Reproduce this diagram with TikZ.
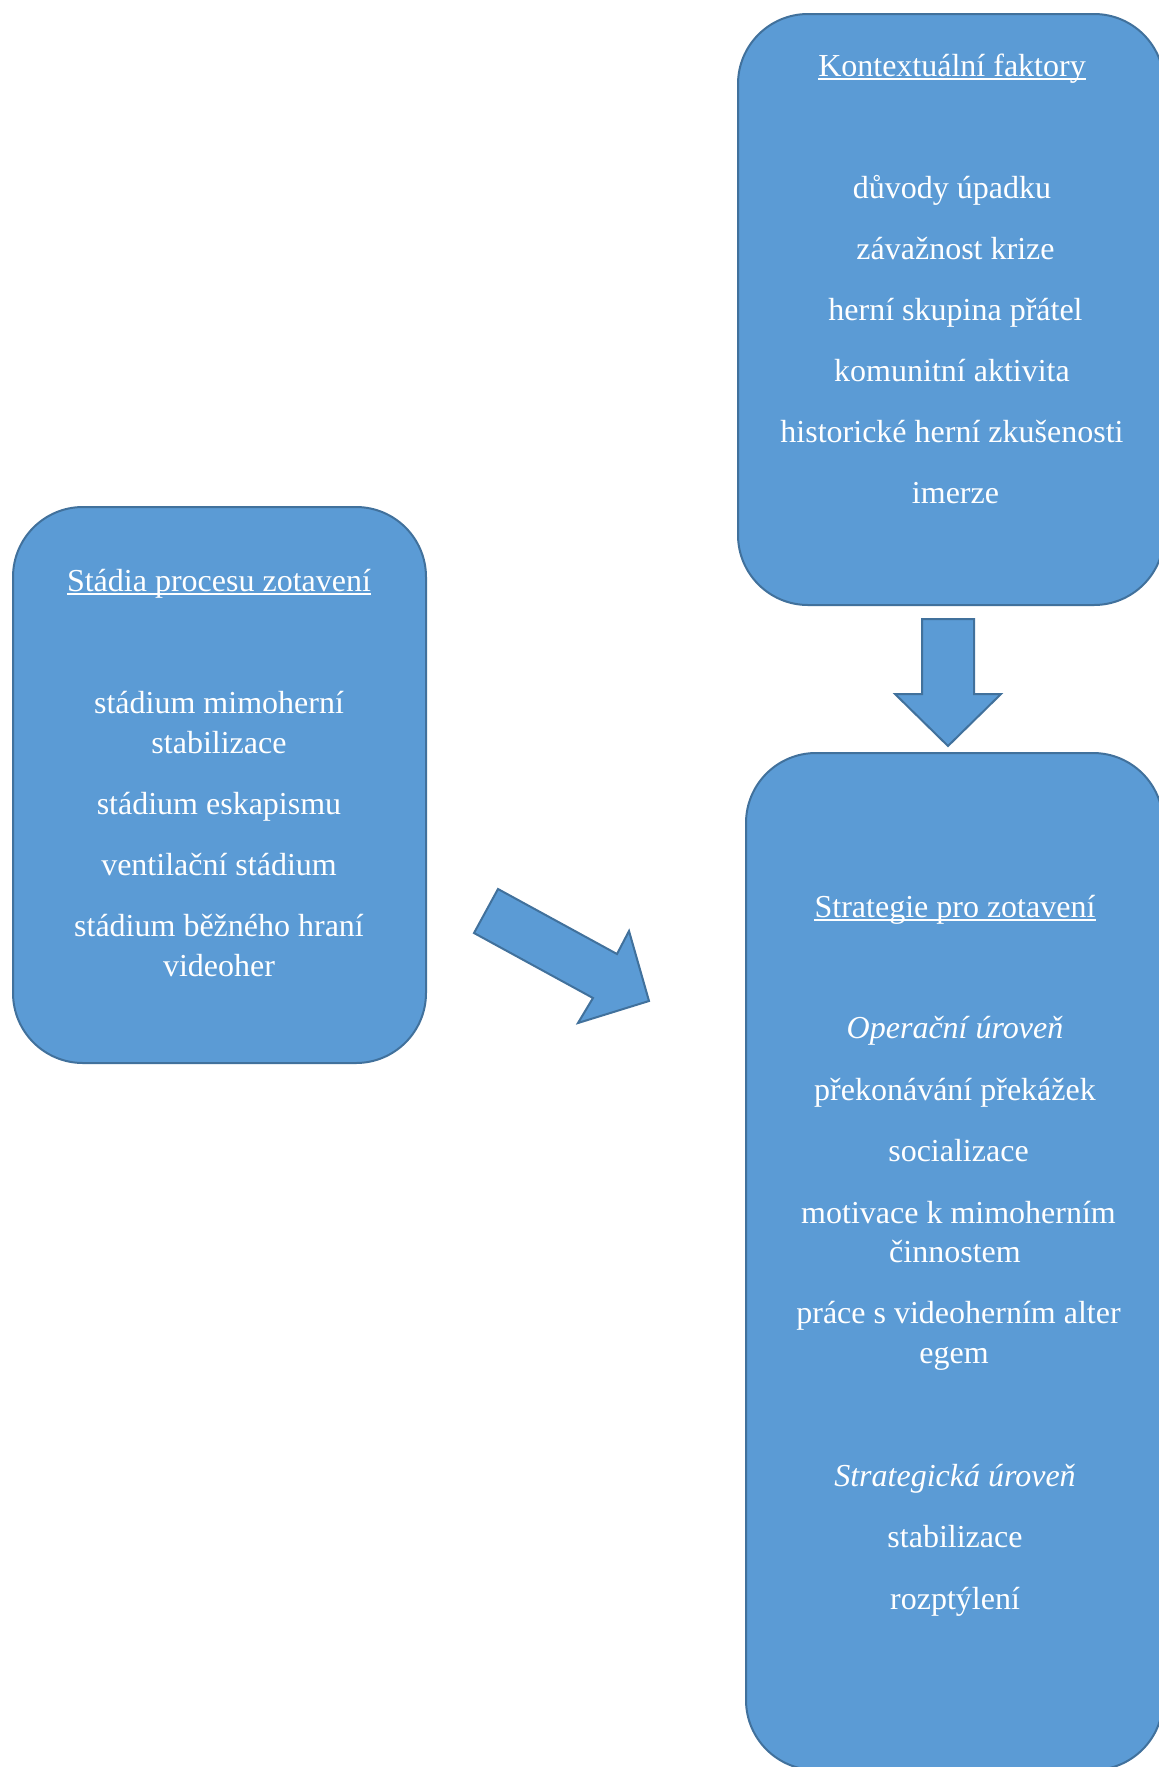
\documentclass[tikz,border=0pt]{standalone}
\usepackage{fontspec}
\setmainfont{Liberation Serif}
\definecolor{boxfill}{HTML}{5B9BD5}
\definecolor{boxline}{HTML}{41719C}
\tikzset{
  panel/.style={draw=boxline, fill=boxfill, line width=2pt, rectangle, rounded corners=70pt, inner sep=0pt},
  blockarrow/.style={draw=boxline, fill=boxfill, line width=2pt, line join=miter},
  txt/.style={text=white, inner sep=0pt, anchor=base, font=\fontsize{32}{38}\selectfont},
  ital/.style={txt, font=\fontsize{32}{38}\selectfont\itshape},
  uline/.style={draw=white, line width=1.8pt}
}
\begin{document}
\begin{tikzpicture}[x=1pt,y=-1pt]
\useasboundingbox (0,0) rectangle (1159,1767);
\clip (0,0) rectangle (1159,1767);
\fill[white] (0,0) rectangle (1159,1767);

% panels
\node[panel, minimum width=426pt, minimum height=591pt] (ctx) at (951,309.5) {};
\node[panel, minimum width=413pt, minimum height=556pt] (stages) at (219.5,785) {};
\node[panel, minimum width=417pt, minimum height=1017pt] (strat) at (954.5,1261.5) {};

% block arrows
\coordinate (d1) at (922,619);
\coordinate (d2) at (974,619);
\coordinate (d3) at (974,694);
\coordinate (d4) at (1001,694);
\coordinate (dtip) at (948,746);
\coordinate (d6) at (895,694);
\coordinate (d7) at (922,694);
\draw[blockarrow] (d1) -- (d2) -- (d3) -- (d4) -- (dtip) -- (d6) -- (d7) -- cycle;

\coordinate (a1) at (498,889);
\coordinate (a2) at (617,954);
\coordinate (a3) at (629,931);
\coordinate (atip) at (649,1001);
\coordinate (a5) at (578,1023);
\coordinate (a6) at (593,998);
\coordinate (a7) at (474,933);
\draw[blockarrow] (a1) -- (a2) -- (a3) -- (atip) -- (a5) -- (a6) -- (a7) -- cycle;

% context factors
\node[txt] (ctxT) at (952,76) {Kontextuální faktory};
\draw[uline] ([yshift=-3pt]ctxT.base west) -- ([yshift=-3pt]ctxT.base east);
\node[txt] (c1) at (952,198) {důvody úpadku};
\node[txt] (c2) at (955.5,259) {závažnost krize};
\node[txt] (c3) at (955.5,320) {herní skupina přátel};
\node[txt] (c4) at (952,381) {komunitní aktivita};
\node[txt] (c5) at (952,442) {historické herní zkušenosti};
\node[txt] (c6) at (955.5,503) {imerze};

% stages
\node[txt] (stT) at (219,591) {Stádia procesu zotavení};
\draw[uline] ([yshift=-3pt]stT.base west) -- ([yshift=-3pt]stT.base east);
\node[txt] (s1a) at (219,713.5) {stádium mimoherní};
\node[txt] (s1b) at (219,753) {stabilizace};
\node[txt] (s2) at (219,814) {stádium eskapismu};
\node[txt] (s3) at (219,875) {ventilační stádium};
\node[txt] (s4a) at (219,936) {stádium běžného hraní};
\node[txt] (s4b) at (219,976) {videoher};

% strategies
\node[txt] (srT) at (955,917) {Strategie pro zotavení};
\draw[uline] ([yshift=-3pt]srT.base west) -- ([yshift=-3pt]srT.base east);
\node[ital] (op) at (955,1038) {Operační úroveň};
\node[txt] (r1) at (955,1100) {překonávání překážek};
\node[txt] (r2) at (958.5,1161) {socializace};
\node[txt] (r3a) at (958.5,1223) {motivace k mimoherním};
\node[txt] (r3b) at (955,1262) {činnostem};
\node[txt] (r4a) at (958.5,1323) {práce s videoherním alter};
\node[txt] (r4b) at (954,1363) {egem};
\node[ital] (sg) at (955,1486) {Strategická úroveň};
\node[txt] (r5) at (955,1547) {stabilizace};
\node[txt] (r6) at (955,1609) {rozptýlení};
\end{tikzpicture}
\end{document}
